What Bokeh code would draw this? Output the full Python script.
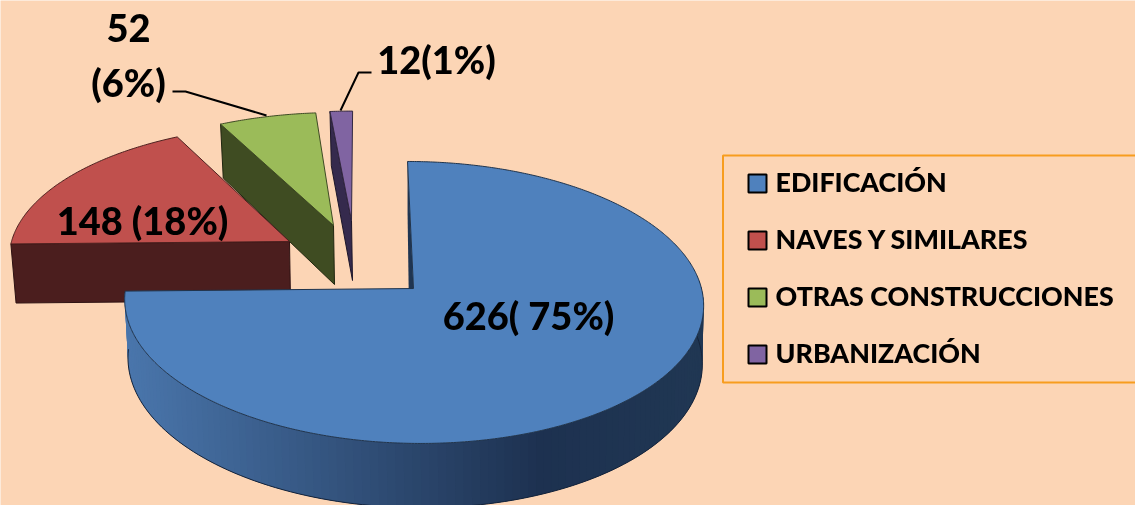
import math
from bokeh.core.properties import value
from bokeh.embed import file_html
from bokeh.plotting import figure
from bokeh.resources import INLINE

# ---- data ----
categories = ["EDIFICACIÓN", "NAVES Y SIMILARES", "OTRAS CONSTRUCCIONES", "URBANIZACIÓN"]
values = [626, 148, 52, 12]
data_labels = ["626( 75%)", "148 (18%)", "52\n(6%)", "12(1%)"]

# ---- styles ----
BG = "#FCD5B5"
top_colors = ["#4F81BD", "#C0504D", "#9BBB59", "#8064A2"]
wall_colors = ["#1F3552", "#4B1E1E", "#3F4C22", "#352A4D"]
FONT = value("Lato Black, Lato")

# ---- projection of each exploded slice: apex, radii, perspective, skew, depth, wall taper ----
views = [
    dict(ax=413, ay=288, rx=288, ry=139.6, k=0.099, sk=0.047, h=58, t=0.992),
    dict(ax=289, ay=241, rx=278, ry=129, k=0.106, sk=-0.048, h=59, t=0.985),
    dict(ax=333, ay=225, rx=278, ry=125, k=0.106, sk=-0.043, h=59, t=0.985),
    dict(ax=351, ay=220, rx=278, ry=121, k=0.106, sk=-0.01, h=60, t=0.985),
]

p = figure(width=1135, height=505, x_range=(0, 1135), y_range=(505, 0),
           output_backend="svg", toolbar_location=None, min_border=0,
           background_fill_color=BG, border_fill_color=BG, outline_line_color=None)
p.axis.visible = False
p.grid.visible = False
p.styles = {"position": "fixed", "left": "0", "top": "0"}


def rim(v, th, bottom=False):
    t = math.radians(th)
    X, s = math.sin(t), -math.cos(t)
    f = 1 / (1 - v["k"] * s)
    dy = v["ry"] * s * f
    x = v["rx"] * X * f + v["sk"] * dy
    y = v["ay"] + dy
    if bottom:
        return v["ax"] + 1 + x * v["t"], y + v["h"] * f
    return v["ax"] + x, y


def apex(v, bottom=False):
    return (v["ax"] + 1, v["ay"] + v["h"]) if bottom else (v["ax"], v["ay"])


def mix(a, b, t):
    ca = [int(a[i:i + 2], 16) for i in (1, 3, 5)]
    cb = [int(b[i:i + 2], 16) for i in (1, 3, 5)]
    return "#%02x%02x%02x" % tuple(round(m + (n - m) * t) for m, n in zip(ca, cb))


total = sum(values)
spans = []
start = 0.0
for val in values:
    spans.append((start, start + 360 * val / total))
    start += 360 * val / total

# back to front: urbanización, otras, naves, edificación
for i in (3, 2, 1, 0):
    v = views[i]
    a0, a1 = spans[i]
    n = max(12, int(a1 - a0) * 2)
    angs = [a0 + (a1 - a0) * j / n for j in range(n + 1)]
    arc = [rim(v, a) for a in angs]

    if i == 0:
        # radial wall on the start edge, leaning left behind the top face
        r0 = rim(v, a0)
        r1 = rim(v, a0, True)
        q = [r0, apex(v), (v["ax"] - 4, v["ay"] + v["h"]), (r1[0] - 1, r1[1])]
        p.patch([c[0] for c in q], [c[1] for c in q], fill_color=wall_colors[0],
                line_color=None)
        # curved front wall, shaded from left to right; each band overlaps the next
        seg = [85 + (a1 - 85) * j / 120 for j in range(121)]
        for j in range(len(seg) - 1):
            a, b, c2 = seg[j], seg[j + 1], seg[min(j + 2, len(seg) - 1)]
            q = [rim(v, a), rim(v, b), rim(v, c2), rim(v, c2, True), rim(v, b, True), rim(v, a, True)]
            xm = (q[0][0] + q[1][0]) / 2
            if xm < 540:
                col = mix("#4A76AC", "#1D3150", max(0, (xm - 124) / 416))
            else:
                col = mix("#1D3150", "#203753", (xm - 540) / 160)
            p.patch([c[0] for c in q], [c[1] for c in q], fill_color=col, line_color=None)
        low = [rim(v, a, True) for a in seg]
        p.line([c[0] for c in low], [c[1] for c in low], line_color="#14233a", line_width=1)
    elif i == 1:
        q = [rim(v, a0), apex(v), apex(v, True), rim(v, a0, True)]
        p.patch([c[0] for c in q], [c[1] for c in q], fill_color=wall_colors[1],
                line_color="#2e1212", line_width=1)
    else:
        q = [rim(v, a0), apex(v), apex(v, True), rim(v, a0, True)]
        p.patch([c[0] for c in q], [c[1] for c in q], fill_color=wall_colors[i],
                line_color="#20260f" if i == 2 else "#1c1629", line_width=1)

    xs = [apex(v)[0]] + [c[0] for c in arc]
    ys = [apex(v)[1]] + [c[1] for c in arc]
    p.patch(xs, ys, fill_color=top_colors[i], line_color=mix(top_colors[i], "#000000", 0.6), line_width=1)

# leader lines
p.line([172, 185, 266], [91, 91, 115], line_color="black", line_width=2)
p.line([340, 358, 371], [110, 72, 72], line_color="black", line_width=2)

# data labels
lab_pos = [(528, 314), (142, 219), (128, 54), (436, 58)]
for lab, (lx, ly) in zip(data_labels, lab_pos):
    parts = lab.split("\n")
    if len(parts) == 1:
        p.text([lx], [ly], text=[lab], text_font=FONT, text_font_style="bold", text_font_size="38px",
               text_align="center", text_baseline="middle", text_color="black")
    else:
        for dy, part in zip((-27, 27), parts):
            p.text([lx], [ly + dy], text=[part], text_font=FONT, text_font_style="bold", text_font_size="38px",
                   text_align="center", text_baseline="middle", text_color="black")

# legend box
p.quad(left=[722.5], right=[1140], top=[155], bottom=[382], fill_color=None, line_color="#F79D1E", line_width=2)
rows = [183, 240, 297, 354]
for cat, col, ry in zip(categories, top_colors, rows):
    p.rect([757], [ry], width=18, height=18, fill_color=col, line_color="black", line_width=2)
    p.text([775], [ry - 2], text=[cat], text_font=FONT, text_font_style="bold", text_font_size="26.8px",
           text_align="left", text_baseline="middle", text_color="black")

open("out.html", "w").write(file_html(p, INLINE))
